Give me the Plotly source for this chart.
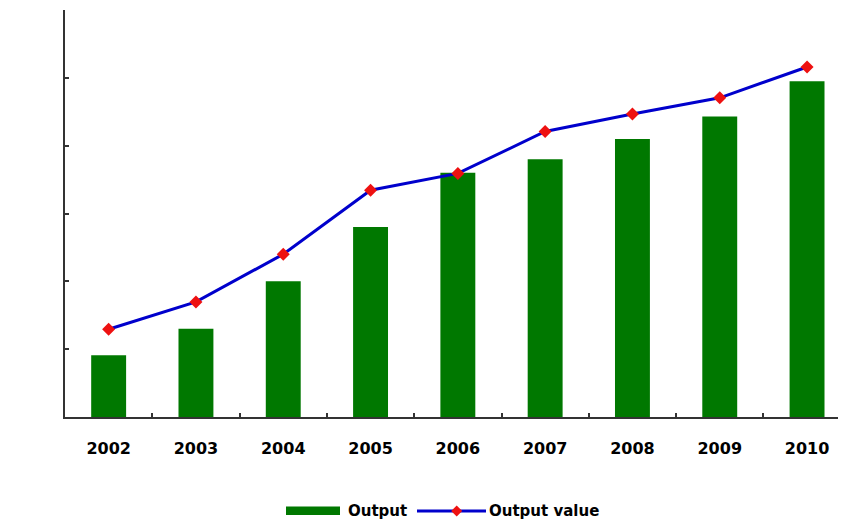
import plotly.graph_objects as go

years = ["2002", "2003", "2004", "2005", "2006", "2007", "2008", "2009", "2010"]
output = [9.1, 13.0, 20.0, 28.0, 36.0, 38.0, 41.0, 44.3, 49.5]
output_value = [15.1, 19.8, 28.0, 39.0, 41.9, 49.1, 52.1, 54.9, 60.2]
legend_labels = ["Output", "Output value"]

# page body has an 8px margin; figure is sized to fit in the window
OFF = 8
W, H = 846 - OFF, 527 - OFF
ML, MR, MT, MB = 65 - OFF, 0, 10 - OFF, 527 - 417
PW = W - ML - MR
PH = H - MT - MB
CAT_W = 87.3  # the plot area runs a little past the window's right edge

def px(x):  # screen x -> paper
    return (x - OFF - ML) / PW

def py(y):  # screen y -> paper
    return (H - MB - (y - OFF)) / PH

GREEN = "#007800"
BLUE = "#0000CC"
RED = "#EE1111"
AX = "#333333"
FONT = dict(family="DejaVu Sans", size=16, color="#000000", weight="bold")
LFONT = dict(family="DejaVu Sans", size=15, color="#000000", weight="bold")

fig = go.Figure()
fig.add_trace(go.Bar(x=years, y=output, name=legend_labels[0], marker=dict(color=GREEN, line=dict(width=0)),
                     width=0.4, showlegend=False, yaxis="y"))
fig.add_trace(go.Scatter(x=years, y=output_value, name=legend_labels[1], mode="lines+markers",
                         line=dict(color=BLUE, width=3),
                         marker=dict(symbol="diamond", size=10, color=RED),
                         showlegend=False, yaxis="y2"))

# manual legend
ly = 511
shapes = [
    dict(type="rect", xref="paper", yref="paper", x0=px(286), x1=px(340), y0=py(515), y1=py(506.5),
         fillcolor=GREEN, line=dict(width=0)),
    dict(type="line", xref="paper", yref="paper", x0=px(417), x1=px(486), y0=py(ly), y1=py(ly),
         line=dict(color=BLUE, width=3)),
]
dx, dy = 5.5, 5.5
cx = 456.7
path = "M {} {} L {} {} L {} {} L {} {} Z".format(
    px(cx - dx), py(ly), px(cx), py(ly - dy), px(cx + dx), py(ly), px(cx), py(ly + dy))
shapes.append(dict(type="path", xref="paper", yref="paper", path=path, fillcolor=RED, line=dict(width=0)))

annotations = [
    dict(text=legend_labels[0], xref="paper", yref="paper", x=px(346), y=py(ly), xanchor="left",
         yanchor="middle", showarrow=False, font=LFONT),
    dict(text=legend_labels[1], xref="paper", yref="paper", x=px(487), y=py(ly), xanchor="left",
         yanchor="middle", showarrow=False, font=LFONT),
]

fig.update_layout(
    width=W, height=H,
    margin=dict(l=ML, r=MR, t=MT, b=MB, autoexpand=False),
    paper_bgcolor="white", plot_bgcolor="white",
    bargap=0.6,
    xaxis=dict(type="category", range=[-0.5, -0.5 + PW / CAT_W], showline=True, linecolor=AX, linewidth=2,
               ticks="inside", ticklen=4, tickcolor=AX, tickwidth=2, tickson="boundaries", showgrid=False,
               tickfont=FONT, ticklabelstandoff=16, automargin=False, zeroline=False),
    yaxis=dict(range=[0, 60], dtick=10, showline=True, linecolor=AX, linewidth=2, ticks="inside",
               ticklen=4, tickcolor=AX, tickwidth=2, showticklabels=False, showgrid=False, zeroline=False,
               automargin=False),
    yaxis2=dict(range=[0, 70], dtick=10, overlaying="y", side="right", showline=False, ticks="inside",
                ticklen=2, tickcolor="#666666", showticklabels=False, showgrid=False, zeroline=False,
                automargin=False),
    shapes=shapes,
    annotations=annotations,
)

fig.write_html("out.html")
